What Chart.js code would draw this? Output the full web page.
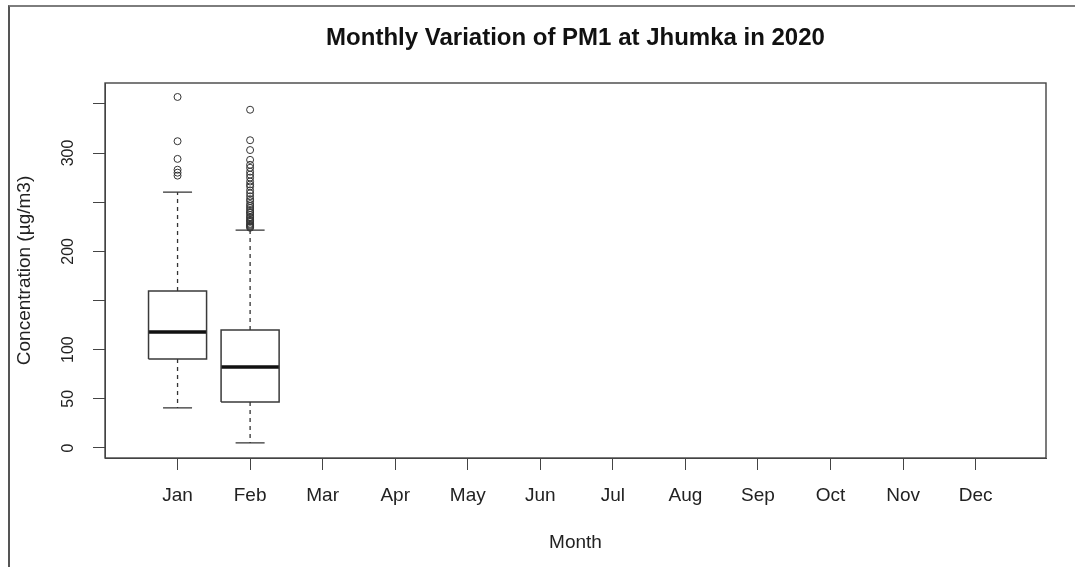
<!DOCTYPE html>
<html>
<head>
<meta charset="utf-8">
<title>Monthly Variation of PM1 at Jhumka in 2020</title>
<script src="https://cdn.jsdelivr.net/npm/chart.js@4.4.0/dist/chart.umd.min.js"></script>
<style>
  html, body { margin: 0; padding: 0; background: #fff; overflow: hidden; }
  #wrap { position: relative; width: 1075px; height: 567px; }
  #frame {
    position: absolute; left: 8px; top: 5px; width: 1200px; height: 700px;
    border-top: 2px solid #7d7d7d; border-left: 2px solid #555;
    pointer-events: none;
  }
</style>
</head>
<body>
<div id="wrap">
  <canvas id="myChart" width="1075" height="567"></canvas>
  <div id="frame"></div>
</div>
<script>
    //month names for the x axis
    const months = ["Jan", "Feb", "Mar", "Apr", "May", "Jun",
                    "Jul", "Aug", "Sep", "Oct", "Nov", "Dec"];

    //positions of the months on the x axis
    const monthPos = [1, 2, 3, 4, 5, 6, 7, 8, 9, 10, 11, 12];

    //y axis ticks and the labels that are shown
    const yTicks = [0, 50, 100, 150, 200, 250, 300, 350];
    const yLabels = ["0", "50", "100", "", "200", "", "300", ""];

    //box statistics, only Jan and Feb have data
    const boxPos = [1, 2];
    const lowerWhisker = [40.7, 5.1];
    const q1 = [90.4, 46.7];
    const median = [117.9, 82.3];
    const q3 = [159.6, 119.9];
    const upperWhisker = [260.2, 221.5];

    //outliers
    const janOutliers = [357, 312, 294, 283, 280, 277];
    const febOutliers = [344, 313, 303, 293, 288, 285, 281, 278, 275, 271, 268, 266,
                         262, 259, 256, 253, 251, 248, 246, 244, 242, 240, 239, 237,
                         235, 234, 232, 231, 230, 228, 227, 226, 225, 224];
    const outliers = [janOutliers, febOutliers];

    const font = "'Liberation Sans', Arial, sans-serif";
    const boxHalf = 0.4;   //half box width
    const capHalf = 0.2;   //half whisker cap width

    //build line data for the boxes, medians, whiskers and caps
    let boxData = [], medData = [], whiskData = [], capData = [], outData = [];
    boxPos.forEach(function (p, i) {
        boxData.push({x: p - boxHalf, y: q1[i]}, {x: p + boxHalf, y: q1[i]},
                     {x: p + boxHalf, y: q3[i]}, {x: p - boxHalf, y: q3[i]},
                     {x: p - boxHalf, y: q1[i]}, {x: p, y: null});
        medData.push({x: p - boxHalf, y: median[i]}, {x: p + boxHalf, y: median[i]}, {x: p, y: null});
        whiskData.push({x: p, y: q3[i]}, {x: p, y: upperWhisker[i]}, {x: p, y: null},
                       {x: p, y: q1[i]}, {x: p, y: lowerWhisker[i]}, {x: p, y: null});
        capData.push({x: p - capHalf, y: upperWhisker[i]}, {x: p + capHalf, y: upperWhisker[i]}, {x: p, y: null},
                     {x: p - capHalf, y: lowerWhisker[i]}, {x: p + capHalf, y: lowerWhisker[i]}, {x: p, y: null});
        outliers[i].forEach(function (v) { outData.push({x: p, y: v}); });
    });

    function lineSet(data, width, color, dash) {
        return {
            data: data,
            showLine: true,
            spanGaps: false,
            borderColor: color,
            borderWidth: width,
            borderDash: dash || [],
            pointRadius: 0,
            pointHoverRadius: 0,
            tension: 0,
            fill: false,
            borderJoinStyle: 'miter'
        };
    }

    //draws the box round the plot region
    const plotBox = {
        id: 'plotBox',
        afterDatasetsDraw(chart) {
            const a = chart.chartArea;
            const ctx = chart.ctx;
            ctx.save();
            ctx.strokeStyle = '#444';
            ctx.lineWidth = 1.4;
            ctx.strokeRect(a.left, a.top, a.right - a.left, a.bottom - a.top);
            ctx.restore();
        }
    };

    const config = {
        type: 'scatter',
        data: {
            datasets: [
                lineSet(whiskData, 1.3, '#333', [4, 4]),
                lineSet(capData, 1.3, '#333'),
                lineSet(boxData, 1.5, '#3a3a3a'),
                lineSet(medData, 3.5, '#111'),
                {
                    data: outData,
                    showLine: false,
                    pointStyle: 'circle',
                    pointRadius: 3.5,
                    pointBorderWidth: 1,
                    borderColor: '#333',
                    backgroundColor: 'rgba(0,0,0,0)'
                }
            ]
        },
        options: {
            responsive: false,
            animation: false,
            events: [],
            layout: { padding: { left: 0, right: 29, top: 0, bottom: 0 } },
            plugins: {
                legend: { display: false },
                tooltip: { enabled: false },
                title: {
                    display: true,
                    fullSize: false,
                    text: 'Monthly Variation of PM1 at Jhumka in 2020',
                    color: '#111',
                    font: { family: font, size: 24, weight: 'bold' },
                    padding: { top: 23.6, bottom: 30.6 }
                }
            },
            scales: {
                x: {
                    type: 'linear',
                    min: 0,
                    max: 12.97,
                    afterBuildTicks: function (scale) {
                        scale.ticks = monthPos.map(function (v) { return {value: v}; });
                    },
                    afterFit: function (scale) { scale.height = 109; },
                    grid: { drawOnChartArea: false, drawTicks: true, tickLength: 12, color: '#444' },
                    border: { display: true, color: '#444' },
                    ticks: {
                        autoSkip: false,
                        maxRotation: 0,
                        padding: 14,
                        color: '#222',
                        font: { family: font, size: 19 },
                        callback: function (value, index) { return months[index]; }
                    },
                    title: {
                        display: true,
                        text: 'Month',
                        color: '#222',
                        font: { family: font, size: 19 },
                        padding: { top: 0, bottom: 12.6 }
                    }
                },
                y: {
                    type: 'linear',
                    min: -10.2,
                    max: 371.2,
                    afterBuildTicks: function (scale) {
                        scale.ticks = yTicks.map(function (v) { return {value: v}; });
                    },
                    afterFit: function (scale) { scale.width = 105; },
                    grid: { drawOnChartArea: false, drawTicks: true, tickLength: 12, color: '#444' },
                    border: { display: true, color: '#444' },
                    ticks: {
                        autoSkip: false,
                        minRotation: 90,
                        maxRotation: 90,
                        crossAlign: 'center',
                        padding: 10.7,
                        color: '#222',
                        font: { family: font, size: 16 },
                        callback: function (value, index) { return yLabels[index]; }
                    },
                    title: {
                        display: true,
                        text: 'Concentration (µg/m3)',
                        color: '#222',
                        font: { family: font, size: 19 },
                        padding: { top: 13.6, bottom: 0 }
                    }
                }
            }
        },
        plugins: [plotBox]
    };

    let myChart = new Chart(document.getElementById('myChart'), config);
</script>
</body>
</html>
